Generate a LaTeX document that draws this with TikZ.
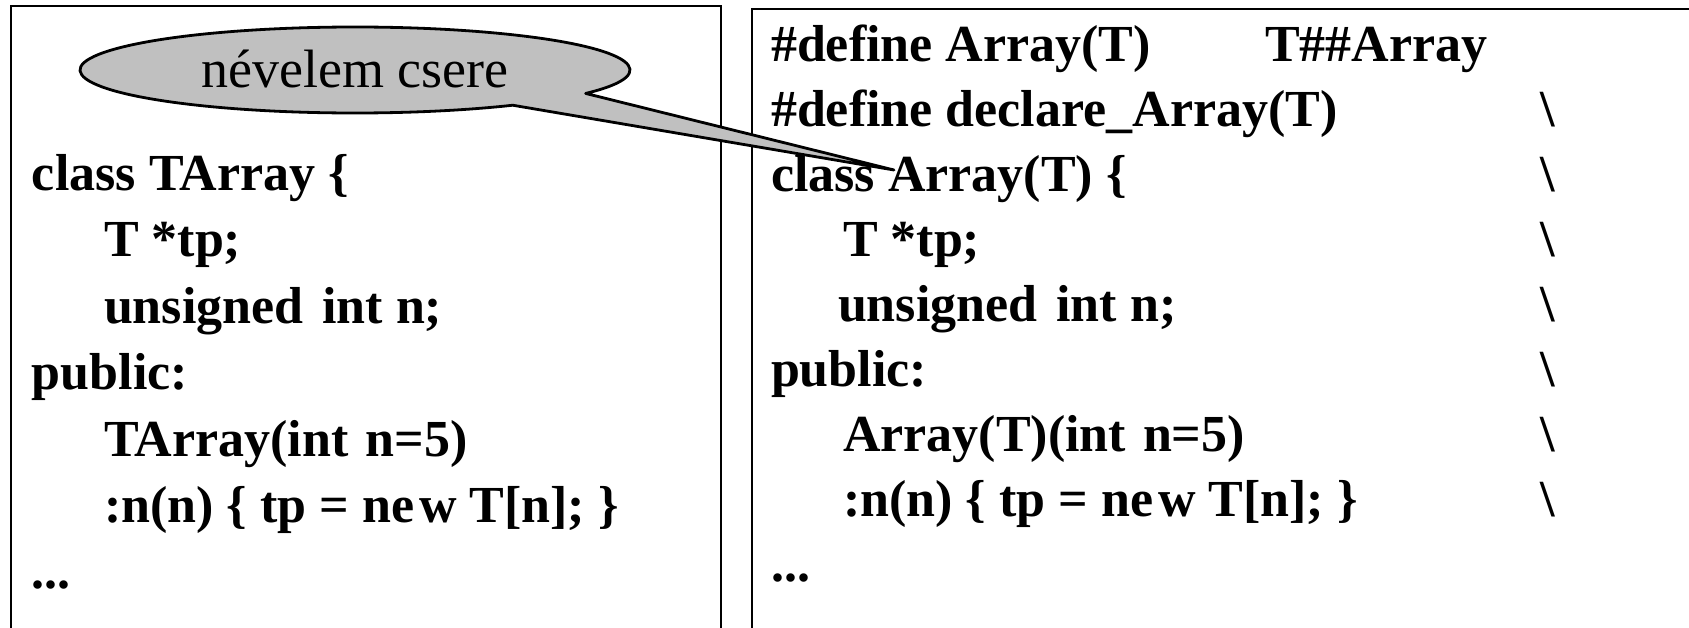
\documentclass[tikz,border=0pt]{standalone}
\usepackage{fontspec}
\setmainfont{Liberation Serif}
\definecolor{bubblegray}{HTML}{C0C0C0}
\newcommand\codefnt{\fontsize{26}{26}\selectfont\bfseries}
\newcommand\bubblefnt{\fontsize{27}{27}\selectfont}
\begin{document}
\begin{tikzpicture}[x=0.5pt,y=-0.5pt,
  code/.style={anchor=base west,inner sep=0pt,outer sep=0pt,font=\codefnt},
  frame/.style={draw=black,line width=1.3pt},
  bubble/.style={draw=black,line width=1.4pt,fill=bubblegray,line join=round}]
\useasboundingbox (0,0) rectangle (1689,627);
\clip (0,0) rectangle (1689,627);
\fill[white] (0,0) rectangle (1689,627);
% frames
\draw[frame] (11,700) -- (11,6) -- (721,6) -- (721,700);
\draw[frame] (752,700) -- (752,9) -- (1750,9);
% left code
\node[code] (l1) at (32,190) {class TArray \{};
\node[code] (l2) at (104,256) {T *tp;};
\node[code] (l3) at (104,323) {unsigned\hspace{3pt} int n;};
\node[code] (l4) at (32,389) {public:};
\node[code] (l5) at (104,456) {TArray(int\hspace{2pt} n=5)};
\node[code] (l6) at (104,522) {:n(n) \{ tp = ne\hspace{2.5pt}w T[n]; \}};
\node[code] (l7) at (32,588) {...};
% right code
\node[code] (r1) at (771,61) {\#define Array(T)};
\node[code] (r1b) at (1265,61) {T\#\#Array};
\node[code] (r2) at (771,126) {\#define declare\_Array(T)};
\node[code] (r3) at (771,191) {class Array(T) \{};
\node[code] (r4) at (843,256) {T *tp;};
\node[code] (r5) at (838,321) {unsigned\hspace{3pt} int n;};
\node[code] (r6) at (771,386) {public:};
\node[code] (r7) at (843,451) {Array(T)(int\hspace{2pt} n=5)};
\node[code] (r8) at (843,516) {:n(n) \{ tp = ne\hspace{2.5pt}w T[n]; \}};
\node[code] (r9) at (771,581) {...};
\foreach \i/\yy in {2/126,3/191,4/256,5/321,6/386,7/451,8/516}
  \node[code] (bs\i) at (1540,\yy) {\textbackslash};
% callout
\coordinate (bc) at (355,70);
\coordinate (tip) at (894,170);
\path[bubble] ([shift={(33:275 and 43)}]bc)
  arc[start angle=33, end angle=-305, x radius=275, y radius=43]
  -- (tip) -- cycle;
\node[anchor=base,inner sep=0pt,font=\bubblefnt] (callout) at (355,87) {névelem csere};
\end{tikzpicture}
\end{document}
